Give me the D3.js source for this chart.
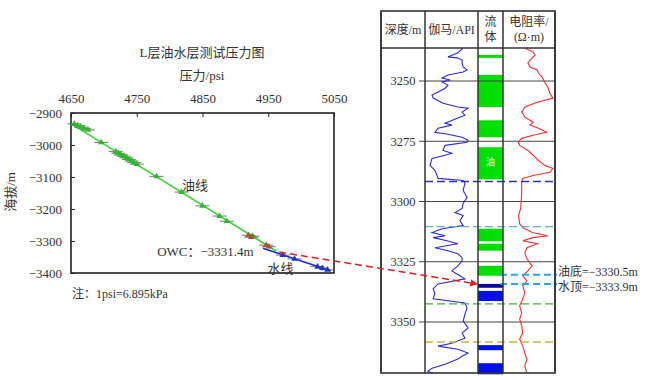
<!DOCTYPE html>
<html>
<head>
<meta charset="utf-8">
<script src="https://cdn.jsdelivr.net/npm/d3@7"></script>
<style>
  body { margin: 0; background: #fff; }
  svg text { font-family: "Liberation Serif", "DejaVu Serif", "Noto Sans CJK SC", serif; fill: #333; }
</style>
</head>
<body>
<div id="chart"></div>
<script>
// ---- left chart data: pressure (psi) vs elevation (m)
var psiTicks = [4650, 4750, 4850, 4950, 5050];
var elevTicks = [-2900, -3000, -3100, -3200, -3300, -3400];
var oilP = [4655, 4660, 4665, 4670, 4676, 4696, 4718, 4722, 4726, 4730, 4734, 4738, 4742, 4746, 4750, 4780, 4818, 4850, 4876, 4887, 4926];
var oilE = [-2934, -2939, -2944, -2948, -2953, -2992, -3020, -3026, -3031, -3035, -3040, -3045, -3050, -3055, -3060, -3098, -3147, -3190, -3222, -3238, -3285];
var redP = [4920, 4924, 4947, 4951];
var redE = [-3282, -3288, -3313, -3318];
var waterP = [4972, 4990, 5025, 5032, 5040];
var waterE = [-3344, -3356, -3380, -3385, -3390];
var oilLineP = [4650, 4962];
var oilLineE = [-2933, -3331.4];
var waterLineP = [4942, 5045];
var waterLineE = [-3323, -3393];
var owc = [4962, -3331.4];

// ---- right log panel data
var depthTicks = [3250, 3275, 3300, 3325, 3350];
var gammaDepth = [3236.4, 3238.3, 3240.0, 3240.4, 3241.3, 3242.5, 3244.2, 3245.4, 3246.3, 3247.5, 3248.8, 3249.6, 3250.4, 3251.7, 3253.0, 3254.6, 3255.8, 3257.1, 3259.2, 3260.8, 3261.3, 3262.9, 3264.2, 3265.4, 3267.5, 3268.3, 3269.6, 3271.3, 3272.1, 3273.3, 3274.6, 3275.4, 3276.7, 3278.8, 3280.0, 3280.8, 3282.1, 3285.0, 3287.1, 3289.2, 3290.4, 3291.3, 3292.5, 3295.4, 3298.3, 3300.8, 3302.9, 3304.6, 3305.8, 3307.9, 3310.0, 3311.3, 3312.9, 3314.2, 3315.0, 3316.3, 3317.5, 3319.2, 3320.4, 3321.7, 3323.3, 3324.6, 3326.7, 3328.8, 3330.8, 3332.1, 3334.2, 3336.3, 3338.3, 3340.4, 3342.1, 3344.2, 3346.7, 3349.6, 3352.5, 3354.6, 3356.7, 3358.8, 3360.0, 3361.3, 3362.9, 3364.2, 3365.4, 3367.5, 3369.2, 3370.4, 3371.7];
var gammaApi = [107, 93, 65, 91, 105, 105, 108, 119, 108, 65, 48, 71, 48, 65, 57, 37, 20, 23, 51, 93, 122, 105, 113, 93, 57, 76, 37, 28, 65, 105, 122, 119, 57, 51, 76, 57, 20, 14, 28, 34, 37, 108, 113, 108, 119, 108, 105, 85, 108, 99, 108, 48, 20, 57, 23, 62, 93, 28, 65, 93, 105, 105, 93, 76, 99, 113, 37, 23, 28, 23, 113, 119, 113, 108, 122, 105, 113, 76, 37, 93, 122, 105, 93, 57, 20, 8, 28];
var resDepth = [3236.3, 3238.0, 3239.2, 3241.3, 3242.5, 3244.2, 3245.4, 3246.7, 3248.3, 3250.4, 3252.5, 3255.0, 3257.1, 3258.8, 3260.8, 3262.9, 3265.0, 3267.1, 3268.3, 3269.6, 3271.3, 3272.5, 3273.8, 3275.4, 3276.7, 3278.8, 3280.8, 3282.9, 3285.0, 3286.3, 3287.9, 3289.2, 3290.4, 3292.1, 3296.3, 3302.9, 3305.8, 3309.2, 3310.8, 3312.9, 3314.2, 3315.0, 3316.3, 3317.5, 3319.2, 3321.3, 3323.8, 3326.7, 3328.8, 3330.8, 3332.9, 3335.0, 3337.9, 3340.4, 3343.3, 3346.3, 3348.8, 3351.7, 3354.6, 3357.1, 3360.0, 3362.9, 3365.4, 3368.3, 3371.3];
var resOhm = [21, 29, 31, 26, 24, 26, 33, 34, 37.5, 40, 43, 45, 48, 33, 21, 18, 21, 29, 26, 34, 42, 29, 18, 14.5, 16, 24, 29, 34, 40, 48, 45, 29, 19, 18, 18, 17, 15, 16, 19, 28, 43, 29, 19, 33, 23, 21, 23, 28, 24, 19, 23, 19, 21, 19, 16, 18, 16, 18, 19, 16, 19, 21, 23, 21, 23];
var fluidTop = [3239.2, 3247.5, 3266.3, 3277.5, 3311.3, 3317.5, 3326.7, 3334.2, 3337.1, 3359.6, 3367.1];
var fluidBot = [3240.4, 3260.8, 3273.3, 3290.8, 3316.5, 3320.4, 3330.8, 3335.8, 3341.3, 3361.7, 3371.7];
var fluidType = ["oil", "oil", "oil", "oil", "oil", "oil", "oil", "water2", "water", "water", "water"];
var markDepth = [3291.7, 3310.4, 3342.5, 3358.3];
var owcDepth = [3330.4, 3334.2];
var owcLabels = ["油底=−3330.5m", "水顶=−3333.9m"];

var svg = d3.select("#chart").append("svg").attr("width", 648).attr("height", 380);

// ================= left chart =================
var x = d3.scaleLinear().domain([4650, 5050]).range([71, 334]);
var y = d3.scaleLinear().domain([-2900, -3400]).range([113, 273]);

svg.append("text").attr("x", 202).attr("y", 57).attr("text-anchor", "middle")
    .attr("font-size", "13px").text("L层油水层测试压力图");
svg.append("text").attr("x", 202).attr("y", 80).attr("text-anchor", "middle")
    .attr("font-size", "13px").text("压力/psi");

var xAxis = svg.append("g").attr("transform", "translate(0," + 113 + ")")
    .call(d3.axisTop(x).tickValues(psiTicks).tickSize(-4).tickPadding(10).tickFormat(d3.format("d")));
var yAxis = svg.append("g").attr("transform", "translate(" + 71 + ",0)")
    .call(d3.axisLeft(y).tickValues(elevTicks).tickSize(-4).tickPadding(9)
        .tickFormat(function (d) { return "−" + Math.abs(d); }));
[xAxis, yAxis].forEach(function (a) {
    a.attr("font-family", null);
    a.select(".domain").remove();
    a.selectAll("line").attr("stroke", "#222");
    a.selectAll("text").attr("font-size", "13px").attr("fill", "#333");
});

svg.append("rect").attr("x", 71).attr("y", 113).attr("width", 263).attr("height", 160)
    .attr("fill", "none").attr("stroke", "#222").attr("stroke-width", 1.6);

svg.append("text").attr("transform", "translate(15,192) rotate(-90)").attr("text-anchor", "middle")
    .attr("font-size", "13px").text("海拔/m");

// oil and water gradient lines
svg.append("line").attr("x1", x(oilLineP[0])).attr("y1", y(oilLineE[0]))
    .attr("x2", x(oilLineP[1])).attr("y2", y(oilLineE[1]))
    .attr("stroke", "#3ed23e").attr("stroke-width", 1.6);
svg.append("line").attr("x1", x(waterLineP[0])).attr("y1", y(waterLineE[0]))
    .attr("x2", x(waterLineP[1])).attr("y2", y(waterLineE[1]))
    .attr("stroke", "#1f2ad0").attr("stroke-width", 1.6);

// measured points, with short error bars
function drawPoints(P, E, color) {
    var g = svg.append("g");
    g.selectAll("line").data(P).enter().append("line")
        .attr("x1", function (d) { return x(d) - 7; })
        .attr("x2", function (d) { return x(d) + 7; })
        .attr("y1", function (d, i) { return y(E[i]); })
        .attr("y2", function (d, i) { return y(E[i]); })
        .attr("stroke", "#555").attr("stroke-width", 0.8);
    g.selectAll("path").data(P).enter().append("path")
        .attr("d", d3.symbol().type(d3.symbolTriangle).size(18))
        .attr("transform", function (d, i) { return "translate(" + x(d) + "," + y(E[i]) + ")"; })
        .attr("fill", color);
}
drawPoints(oilP, oilE, "#2fb82f");
drawPoints(redP, redE, "#b0502a");
drawPoints(waterP, waterE, "#2233cc");

svg.append("text").attr("x", x(4819)).attr("y", y(-3125)).attr("dy", "0.35em")
    .attr("font-size", "13px").text("油线");
svg.append("text").attr("x", x(4781)).attr("y", y(-3334)).attr("dy", "0.35em")
    .attr("font-size", "13px").text("OWC：−3331.4m");
svg.append("text").attr("x", x(4949)).attr("y", y(-3386)).attr("dy", "0.35em")
    .attr("font-size", "13px").text("水线");
svg.append("text").attr("x", 72).attr("y", 298).attr("font-size", "12px").text("注：1psi=6.895kPa");

// ================= right log panel =================
var dep = d3.scaleLinear().domain([3250, 3350]).range([81, 322]);
var gx = d3.scaleLinear().domain([0, 150]).range([425, 478]);
var rx = d3.scaleLinear().domain([0, 50]).range([503, 555]);
var top0 = 48, bot0 = 373;

// fluid blocks
var fluidColor = { oil: "#00e000", water: "#0010e8", water2: "#0a0a90" };
svg.append("g").selectAll("rect").data(fluidTop).enter().append("rect")
    .attr("x", 478).attr("width", 25)
    .attr("y", function (d) { return dep(d); })
    .attr("height", function (d, i) { return dep(fluidBot[i]) - dep(d); })
    .attr("fill", function (d, i) { return fluidColor[fluidType[i]]; });
svg.append("text").attr("x", 490.5).attr("y", dep(3283.5)).attr("dy", "0.35em")
    .attr("text-anchor", "middle").attr("font-size", "9px").style("fill", "#e8ffe8").text("油");

// depth grid
var grid = svg.append("g");
grid.selectAll("line").data(depthTicks).enter().append("line")
    .attr("x1", 419).attr("x2", 555)
    .attr("y1", function (d) { return dep(d); }).attr("y2", function (d) { return dep(d); })
    .attr("stroke", "#444").attr("stroke-width", 1.2);
grid.selectAll("text").data(depthTicks).enter().append("text")
    .attr("x", 403).attr("y", function (d) { return dep(d); }).attr("dy", "0.35em")
    .attr("text-anchor", "middle").attr("font-size", "12.5px").text(function (d) { return d; });

// curves
svg.append("clipPath").attr("id", "logclip").append("rect")
    .attr("x", 425).attr("y", top0).attr("width", 130).attr("height", bot0 - top0);
svg.append("path").datum(gammaDepth).attr("clip-path", "url(#logclip)")
    .attr("d", d3.line().x(function (d, i) { return gx(gammaApi[i]); }).y(function (d) { return dep(d); }))
    .attr("fill", "none").attr("stroke", "#2b2bd6").attr("stroke-width", 1.1);
svg.append("path").datum(resDepth).attr("clip-path", "url(#logclip)")
    .attr("d", d3.line().x(function (d, i) { return rx(resOhm[i]); }).y(function (d) { return dep(d); }))
    .attr("fill", "none").attr("stroke", "#e83232").attr("stroke-width", 1.1);

// marker dashed lines
var markColor = ["#2a35a8", "#5fb3c0", "#4aa84a", "#c2bb3a"];
svg.append("g").selectAll("line").data(markDepth).enter().append("line")
    .attr("x1", 425).attr("x2", 555)
    .attr("y1", function (d) { return dep(d); }).attr("y2", function (d) { return dep(d); })
    .attr("stroke", function (d, i) { return markColor[i]; })
    .attr("stroke-width", 1.3).attr("stroke-dasharray", "8,4");

// oil bottom / water top
svg.append("g").selectAll("line").data(owcDepth).enter().append("line")
    .attr("x1", 500).attr("x2", 557)
    .attr("y1", function (d) { return dep(d); }).attr("y2", function (d) { return dep(d); })
    .attr("stroke", "#2aa6ea").attr("stroke-width", 2).attr("stroke-dasharray", "7,4");
svg.append("g").selectAll("text").data(owcDepth).enter().append("text")
    .attr("x", 558).attr("y", function (d, i) { return dep(d) + (i === 0 ? -2.5 : 3); }).attr("dy", "0.35em")
    .attr("font-size", "12px").text(function (d, i) { return owcLabels[i]; });

// columns frame
var cols = [381, 425, 478, 503, 555];
svg.append("g").selectAll("line").data(cols).enter().append("line")
    .attr("x1", function (d) { return d; }).attr("x2", function (d) { return d; })
    .attr("y1", 11).attr("y2", bot0)
    .attr("stroke", "#333").attr("stroke-width", 1.5);
svg.append("rect").attr("x", 381).attr("y", 11).attr("width", 174).attr("height", bot0 - 11)
    .attr("fill", "none").attr("stroke", "#333").attr("stroke-width", 1.6);
svg.append("line").attr("x1", 381).attr("x2", 555).attr("y1", top0).attr("y2", top0)
    .attr("stroke", "#333").attr("stroke-width", 1.5);

// headers
svg.append("text").attr("x", 403).attr("y", 30).attr("dy", "0.35em").attr("text-anchor", "middle")
    .attr("font-size", "12px").text("深度/m");
svg.append("text").attr("x", 451.5).attr("y", 30).attr("dy", "0.35em").attr("text-anchor", "middle")
    .attr("font-size", "12px").text("伽马/API");
svg.append("text").attr("x", 490.5).attr("y", 22).attr("dy", "0.35em").attr("text-anchor", "middle")
    .attr("font-size", "12px").text("流");
svg.append("text").attr("x", 490.5).attr("y", 37).attr("dy", "0.35em").attr("text-anchor", "middle")
    .attr("font-size", "12px").text("体");
svg.append("text").attr("x", 529).attr("y", 22).attr("dy", "0.35em").attr("text-anchor", "middle")
    .attr("font-size", "12px").text("电阻率/");
svg.append("text").attr("x", 529).attr("y", 37).attr("dy", "0.35em").attr("text-anchor", "middle")
    .attr("font-size", "12px").text("(Ω·m)");

// red dashed link from OWC to log panel
svg.append("defs").append("marker").attr("id", "arrow")
    .attr("viewBox", "0 0 10 10").attr("refX", 9).attr("refY", 5)
    .attr("markerWidth", 5).attr("markerHeight", 5).attr("orient", "auto")
    .append("path").attr("d", "M0,0L10,5L0,10z").attr("fill", "#e02020");
svg.append("line").attr("x1", x(owc[0]) + 3).attr("y1", y(owc[1]) + 1)
    .attr("x2", 477).attr("y2", dep(3334.2))
    .attr("stroke", "#e02020").attr("stroke-width", 1.5).attr("stroke-dasharray", "7,4")
    .attr("marker-end", "url(#arrow)");
</script>
</body>
</html>
